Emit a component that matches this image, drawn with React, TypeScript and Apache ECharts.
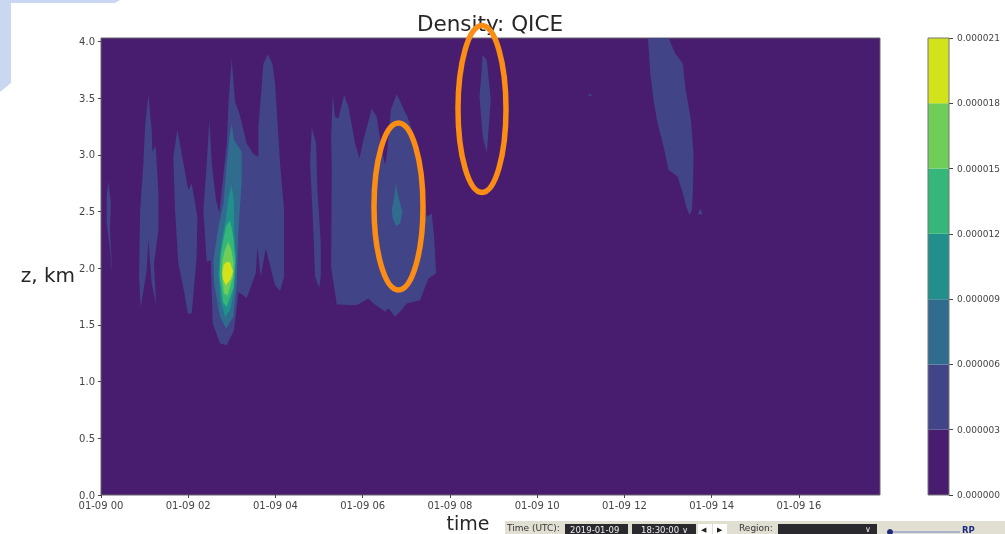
import React, { useEffect, useRef } from "react";
import * as echarts from "echarts";

// Time is in hours after 01-09 00 UTC, height in km.
const xTicks = [0, 2, 4, 6, 8, 10, 12, 14, 16];
const yMax = 4.03;
const xMax = 17.86;
const levelLabels = ["0.000000", "0.000003", "0.000006", "0.000009", "0.000012", "0.000015", "0.000018", "0.000021"];
const levelColors = ["#481c6e", "#414487", "#2f6c8e", "#21908d", "#35b779", "#6ece58", "#d2e21b"];
const levelValues = [0, 3, 6, 9, 12, 15, 18, 21];

const bandA = [[0.167, 2.763], [0.229, 2.572], [0.206, 2.337], [0.259, 1.94], [0.19, 2.22], [0.131, 2.396], [0.131, 2.63]];
const bandB = [[1.086, 3.527], [1.162, 3.218], [1.178, 3.026], [1.254, 3.076], [1.315, 2.688], [1.315, 2.335], [1.216, 2.041], [1.262, 1.682], [1.162, 1.865], [1.086, 2.247], [1.048, 1.982], [0.91, 1.653], [0.872, 1.924], [0.895, 2.497], [0.971, 2.924], [1.01, 3.247]];
const bandC = [[1.751, 3.224], [1.85, 3.012], [2.003, 2.688], [2.08, 2.747], [2.21, 2.453], [2.194, 2.1], [2.08, 1.6], [1.988, 1.6], [1.912, 1.776], [1.774, 2.041], [1.697, 2.512], [1.659, 2.982]];
const bandD = [[2.485, 3.312], [2.539, 2.924], [2.638, 2.6], [2.714, 2.488], [2.768, 2.688], [2.883, 3.1], [2.921, 3.453], [2.997, 3.85], [3.074, 3.468], [3.173, 3.365], [3.341, 3.1], [3.494, 3.006], [3.609, 2.982], [3.609, 3.247], [3.724, 3.806], [3.823, 3.885], [3.93, 3.806], [3.991, 3.629], [4.106, 2.924], [4.198, 2.512], [4.198, 1.924], [4.106, 1.8], [3.991, 1.85], [3.777, 2.174], [3.662, 1.924], [3.586, 2.188], [3.548, 1.953], [3.341, 1.738], [3.15, 1.791], [3.051, 1.453], [2.883, 1.321], [2.73, 1.335], [2.561, 1.512], [2.516, 2.071], [2.424, 2.056], [2.347, 2.512], [2.424, 2.924]];
const bandE = [[4.832, 3.241], [4.932, 3.1], [4.962, 2.688], [5.039, 2.218], [5.039, 1.924], [5.0, 1.826], [4.909, 1.924], [4.855, 2.453], [4.794, 2.924]];
const bandF = [[5.313, 3.527], [5.367, 3.336], [5.443, 3.321], [5.573, 3.527], [5.673, 3.424], [5.825, 3.101], [5.925, 2.968], [6.017, 3.13], [6.208, 3.409], [6.322, 3.336], [6.437, 3.042], [6.514, 2.909], [6.567, 3.042], [6.644, 3.395], [6.781, 3.536], [6.896, 3.439], [7.026, 3.336], [7.24, 3.101], [7.408, 2.63], [7.469, 2.453], [7.584, 2.483], [7.637, 2.277], [7.683, 1.954], [7.507, 1.909], [7.316, 1.718], [7.01, 1.689], [6.858, 1.615], [6.743, 1.571], [6.59, 1.645], [6.514, 1.615], [6.246, 1.689], [6.131, 1.733], [5.864, 1.674], [5.405, 1.68], [5.275, 2.012], [5.29, 2.895], [5.275, 3.159]];
const bandG = [[8.746, 3.88], [8.845, 3.836], [8.907, 3.6], [8.937, 3.483], [8.845, 3.012], [8.754, 3.159], [8.677, 3.512], [8.715, 3.689]];
const bandH = [[12.539, 4.03], [13.013, 4.03], [13.165, 3.894], [13.341, 3.806], [13.395, 3.6], [13.525, 3.306], [13.586, 3.012], [13.571, 2.688], [13.548, 2.512], [13.494, 2.468], [13.418, 2.541], [13.341, 2.659], [13.219, 2.806], [13.127, 2.835], [13.013, 2.865], [12.883, 3.1], [12.76, 3.276], [12.669, 3.482], [12.592, 3.718]];
const bandI = [[13.739, 2.527], [13.792, 2.476], [13.685, 2.476]];
const bandJ = [[11.21, 3.54], [11.27, 3.52], [11.16, 3.52]];
const level2F = [[6.758, 2.748], [6.819, 2.63], [6.911, 2.498], [6.858, 2.395], [6.766, 2.371], [6.689, 2.439], [6.666, 2.512], [6.72, 2.63]];
const level2Plume = [[2.997, 3.276], [3.051, 3.129], [3.227, 3.026], [3.227, 2.776], [3.15, 2.335], [3.112, 1.865], [3.035, 1.571], [2.867, 1.468], [2.73, 1.571], [2.592, 1.865], [2.577, 2.071], [2.692, 2.365], [2.806, 2.571], [2.883, 2.924], [2.944, 3.159]];
const level3Plume = [[2.997, 2.732], [3.051, 2.571], [3.051, 2.335], [3.097, 2.071], [3.051, 1.806], [2.959, 1.629], [2.844, 1.571], [2.745, 1.718], [2.692, 1.953], [2.745, 2.188], [2.867, 2.453], [2.929, 2.629]];
const level4Plume = [[2.96, 2.42], [3.03, 2.28], [3.08, 2.07], [3.04, 1.83], [2.88, 1.66], [2.8, 1.7], [2.72, 1.94], [2.74, 2.1], [2.8, 2.24], [2.87, 2.37]];
const level5Plume = [[2.913, 2.232], [2.985, 2.17], [3.04, 2.05], [3.03, 1.93], [2.9, 1.76], [2.82, 1.78], [2.77, 1.93], [2.78, 2.06], [2.84, 2.16]];
const level6Plume = [[2.883, 2.056], [2.96, 2.05], [3.03, 1.97], [2.97, 1.9], [2.86, 1.85], [2.8, 1.9], [2.78, 1.96], [2.81, 2.03]];

const contours = [
  { level: 1, shapes: [bandA, bandB, bandC, bandD, bandE, bandF, bandG, bandH, bandI, bandJ] },
  { level: 2, shapes: [level2F, level2Plume] },
  { level: 3, shapes: [level3Plume] },
  { level: 4, shapes: [level4Plume] },
  { level: 5, shapes: [level5Plume] },
  { level: 6, shapes: [level6Plume] },
];

const hourLabel = (v: number) => `01-09 ${String(v).padStart(2, "0")}`;

export default function App() {
  const ref = useRef<HTMLDivElement>(null);
  useEffect(() => {
    const chart = echarts.init(ref.current!, undefined, { renderer: "svg" });
    const font = "'DejaVu Sans', sans-serif";
    const spine = "#444";
    const polygons = contours.flatMap((c) => c.shapes.map((pts) => ({ level: c.level, pts, color: levelColors[c.level] })));
    chart.setOption({
      animation: false,
      backgroundColor: "#fff",
      textStyle: { fontFamily: font },
      title: {
        text: "Density: QICE",
        left: 485,
        top: 7,
        textAlign: "center",
        textStyle: { fontFamily: font, fontSize: 21.5, fontWeight: "normal", color: "#262626" },
      },
      grid: [
        { left: 101, top: 38, width: 779, height: 457, show: true, backgroundColor: levelColors[0], borderColor: "#666", borderWidth: 1, outerBoundsMode: "none", containLabel: false },
        { left: 928, top: 38, width: 21, height: 457, show: false, outerBoundsMode: "none", containLabel: false },
      ],
      xAxis: [
        {
          type: "value", gridIndex: 0, min: 0, max: xMax, interval: 2,
          name: "time", nameLocation: "middle", nameGap: 19, nameMoveOverlap: false,
          nameTextStyle: { fontSize: 19, lineHeight: 18, color: "#262626", padding: [0, 45, 0, 0] },
          axisLine: { show: false }, splitLine: { show: false },
          axisTick: { show: true, length: 3, lineStyle: { color: spine } },
          axisLabel: {
            show: true, fontSize: 10, color: "#444", margin: 5, showMaxLabel: false,
            formatter: (v: number) => (xTicks.includes(v) ? hourLabel(v) : ""),
          },
        },
        { type: "category", gridIndex: 1, data: ["QICE"], show: false },
      ],
      yAxis: [
        {
          type: "value", gridIndex: 0, min: 0, max: yMax, interval: 0.5,
          name: "z, km", nameLocation: "middle", nameRotate: 0, nameGap: 26, nameMoveOverlap: false,
          nameTextStyle: { fontSize: 20, color: "#262626", verticalAlign: "top", lineHeight: 17 },
          axisLine: { show: false }, splitLine: { show: false },
          axisTick: { show: true, length: 3, lineStyle: { color: spine } },
          axisLabel: { show: true, fontSize: 10, color: "#444", margin: 6, showMaxLabel: false, formatter: (v: number) => v.toFixed(1) },
        },
        {
          type: "value", gridIndex: 1, position: "right", min: 0, max: 21, interval: 3,
          axisLine: { show: false }, splitLine: { show: false },
          axisTick: { show: true, length: 4, lineStyle: { color: spine } },
          axisLabel: { show: true, fontSize: 9, color: "#444", margin: 8, formatter: (v: number) => levelLabels[levelValues.indexOf(v)] ?? "" },
        },
      ],
      series: [
        {
          type: "custom",
          xAxisIndex: 0,
          yAxisIndex: 0,
          clip: true,
          silent: true,
          data: polygons.map((p, i) => [i]),
          renderItem: (params: any, api: any) => {
            const p = polygons[params.dataIndex];
            return {
              type: "polygon",
              shape: { points: p.pts.map((pt) => api.coord(pt)) },
              style: { fill: p.color },
              z2: p.level,
            };
          },
        },
        ...levelColors.map((color, i) => ({
          type: "bar",
          xAxisIndex: 1,
          yAxisIndex: 1,
          stack: "levels",
          barWidth: "100%",
          silent: true,
          itemStyle: { color, borderRadius: 0 },
          data: [levelValues[i + 1] - levelValues[i]],
        })),
      ],
      graphic: [
        {
          type: "polygon", z: 10, silent: true,
          shape: { points: [[0, 0], [120, 0], [115, 3], [11, 3], [11, 83], [0, 92]] },
          style: { fill: "#c9d7f0" },
        },
        { type: "rect", z: 8, silent: true, shape: { x: 928, y: 38, width: 21, height: 457 }, style: { fill: "none", stroke: "#777", lineWidth: 1 } },
        { type: "ellipse", z: 20, silent: true, shape: { cx: 398.5, cy: 206.5, rx: 24.5, ry: 83.5 }, style: { fill: "none", stroke: "#fb8c14", lineWidth: 5.5 } },
        { type: "ellipse", z: 20, silent: true, shape: { cx: 482, cy: 109, rx: 24, ry: 83.5 }, style: { fill: "none", stroke: "#fb8c14", lineWidth: 5.5 } },
        { type: "rect", z: 5, silent: true, shape: { x: 505, y: 521, width: 500, height: 13 }, style: { fill: "#e0dfd2" } },
        { type: "text", z: 6, silent: true, x: 507, y: 523, style: { text: "Time (UTC):", fontSize: 9, fontFamily: font, fill: "#333" } },
        { type: "rect", z: 6, silent: true, shape: { x: 565, y: 524, width: 63, height: 10 }, style: { fill: "#2a2a2e" } },
        { type: "text", z: 7, silent: true, x: 570, y: 525, style: { text: "2019-01-09", fontSize: 8.5, fontFamily: font, fill: "#eee" } },
        { type: "rect", z: 6, silent: true, shape: { x: 632, y: 524, width: 64, height: 10 }, style: { fill: "#2a2a2e" } },
        { type: "text", z: 7, silent: true, x: 641, y: 525, style: { text: "18:30:00 ∨", fontSize: 8.5, fontFamily: font, fill: "#eee" } },
        { type: "rect", z: 6, silent: true, shape: { x: 698, y: 524, width: 14, height: 10 }, style: { fill: "#fff" } },
        { type: "rect", z: 6, silent: true, shape: { x: 713, y: 524, width: 14, height: 10 }, style: { fill: "#fff" } },
        { type: "text", z: 7, silent: true, x: 701, y: 526, style: { text: "◀", fontSize: 7, fontFamily: font, fill: "#222" } },
        { type: "text", z: 7, silent: true, x: 717, y: 526, style: { text: "▶", fontSize: 7, fontFamily: font, fill: "#222" } },
        { type: "text", z: 6, silent: true, x: 739, y: 523, style: { text: "Region:", fontSize: 9, fontFamily: font, fill: "#333" } },
        { type: "rect", z: 6, silent: true, shape: { x: 778, y: 524, width: 99, height: 10 }, style: { fill: "#2a2a2e" } },
        { type: "text", z: 7, silent: true, x: 865, y: 525, style: { text: "∨", fontSize: 8, fontFamily: font, fill: "#eee" } },
        { type: "circle", z: 6, silent: true, shape: { cx: 890, cy: 532, r: 3 }, style: { fill: "#1c2a80" } },
        { type: "line", z: 6, silent: true, shape: { x1: 893, y1: 532, x2: 960, y2: 532 }, style: { stroke: "#7a86c8", lineWidth: 1 } },
        { type: "text", z: 6, silent: true, x: 962, y: 525, style: { text: "RP", fontSize: 8.5, fontWeight: "bold", fontFamily: font, fill: "#1c2a80" } },
      ],
    });
    return () => chart.dispose();
  }, []);
  return (
    <div
      ref={ref}
      style={{ position: "absolute", left: 0, top: 0, width: 1005, height: 534, filter: "blur(0.5px)" }}
    />
  );
}
